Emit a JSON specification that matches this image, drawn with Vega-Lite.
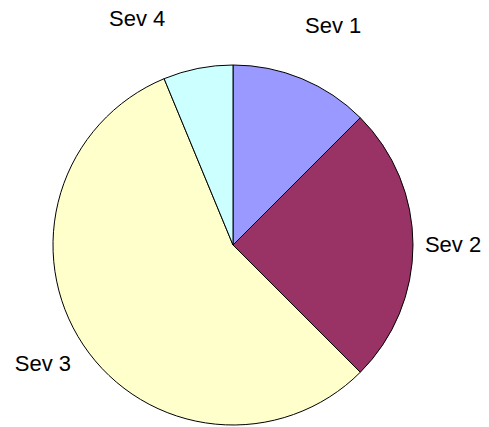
{
  "$schema": "https://vega.github.io/schema/vega-lite/v6.json",
  "width": 466,
  "height": 360,
  "padding": {"left": 0, "top": 65, "right": 23, "bottom": 2},
  "autosize": {"type": "none"},
  "background": "white",
  "view": {"stroke": null},
  "data": {"values": [
    {"sev": "Sev 1", "value": 2},
    {"sev": "Sev 2", "value": 4},
    {"sev": "Sev 3", "value": 9},
    {"sev": "Sev 4", "value": 1}
  ]},
  "transform": [
    {"stack": "value", "groupby": [], "sort": [{"field": "sev", "order": "ascending"}], "as": ["v0", "v1"]},
    {"calculate": "(datum.v0 + datum.v1) / 2", "as": "vmid"}
  ],
  "layer": [
    {
      "mark": {"type": "arc", "outerRadius": 180, "stroke": "black", "strokeWidth": 1},
      "encoding": {
        "theta": {"field": "v0", "type": "quantitative", "scale": {"domain": [0, 16]}},
        "theta2": {"field": "v1"},
        "color": {"field": "sev", "type": "nominal", "legend": null,
          "scale": {"domain": ["Sev 1", "Sev 2", "Sev 3", "Sev 4"], "range": ["#9999FF", "#993366", "#FFFFCC", "#CCFFFF"]}}
      }
    },
    {
      "transform": [{"filter": "datum.sev === 'Sev 1'"}],
      "mark": {"type": "text", "radius": 225, "dx": 14, "dy": -11, "font": "Liberation Sans", "fontSize": 22, "fill": "black", "align": "center", "baseline": "middle"},
      "encoding": {"theta": {"field": "vmid", "type": "quantitative", "scale": {"domain": [0, 16]}}, "text": {"field": "sev", "type": "nominal"}}
    },
    {
      "transform": [{"filter": "datum.sev === 'Sev 2'"}],
      "mark": {"type": "text", "radius": 225, "dx": -5, "dy": 0, "font": "Liberation Sans", "fontSize": 22, "fill": "black", "align": "center", "baseline": "middle"},
      "encoding": {"theta": {"field": "vmid", "type": "quantitative", "scale": {"domain": [0, 16]}}, "text": {"field": "sev", "type": "nominal"}}
    },
    {
      "transform": [{"filter": "datum.sev === 'Sev 3'"}],
      "mark": {"type": "text", "radius": 225, "dx": -3, "dy": -6, "font": "Liberation Sans", "fontSize": 22, "fill": "black", "align": "center", "baseline": "middle"},
      "encoding": {"theta": {"field": "vmid", "type": "quantitative", "scale": {"domain": [0, 16]}}, "text": {"field": "sev", "type": "nominal"}}
    },
    {
      "transform": [{"filter": "datum.sev === 'Sev 4'"}],
      "mark": {"type": "text", "radius": 225, "dx": -52, "dy": -5, "font": "Liberation Sans", "fontSize": 22, "fill": "black", "align": "center", "baseline": "middle"},
      "encoding": {"theta": {"field": "vmid", "type": "quantitative", "scale": {"domain": [0, 16]}}, "text": {"field": "sev", "type": "nominal"}}
    }
  ]
}
